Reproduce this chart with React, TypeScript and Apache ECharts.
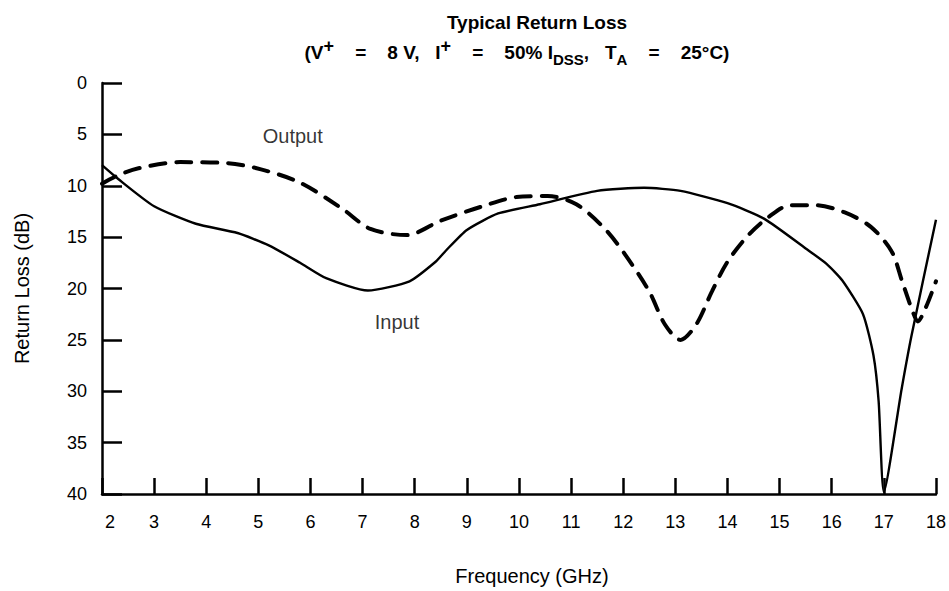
import React, { useEffect, useRef } from "react";
import * as echarts from "echarts";

// Input (solid) return loss, GHz vs dB
const inputFreq = [2, 2.3, 3.0, 3.8, 4.6, 5.2, 5.8, 6.3, 7.1, 7.9, 8.4, 8.6, 9.0, 9.6, 10.4, 11.5, 12.4, 13.1, 14.0, 14.7, 15.5, 15.9, 16.2, 16.6, 16.8, 16.9, 17.0, 17.34, 17.53, 18];
const inputLoss = [8, 9.3, 12.0, 13.7, 14.6, 15.8, 17.5, 19.0, 20.2, 19.3, 17.4, 16.3, 14.3, 12.7, 11.8, 10.5, 10.2, 10.5, 11.7, 13.2, 16.1, 17.6, 19.2, 22.5, 26.5, 31.0, 39.8, 29.8, 24.6, 13.3];

// Output (dashed) return loss
const outputFreq = [2, 2.3, 2.7, 3.5, 4.4, 5.05, 5.8, 6.6, 7.15, 7.85, 8.5, 9.3, 9.95, 10.55, 11.1, 11.65, 12.05, 12.5, 12.8, 13.1, 13.4, 13.7, 14.0, 14.4, 14.8, 15.2, 15.7, 16.25, 16.75, 17.15, 17.35, 17.55, 17.65, 17.8, 18];
const outputLoss = [9.8, 9.0, 8.3, 7.7, 7.8, 8.4, 9.7, 12.2, 14.2, 14.8, 13.4, 12.0, 11.1, 11.0, 11.8, 14.2, 16.8, 20.3, 23.5, 25.0, 23.5, 20.3, 17.4, 14.8, 13.0, 11.9, 11.9, 12.6, 14.0, 16.4, 19.3, 22.2, 23.2, 21.9, 19.3];

// Curve annotations (data coordinates)
const noteNames = ["Output", "Input"];
const noteFreq = [5.66, 7.66];
const noteLoss = [5.2, 23.3];

const FONT = '"Liberation Sans", Arial, Helvetica, sans-serif';

export default function App() {
  const ref = useRef<HTMLDivElement>(null);
  useEffect(() => {
    document.body.style.margin = "0";
    const chart = echarts.init(ref.current!, null, { renderer: "svg" });
    const pair = (xs: number[], ys: number[]) => xs.map((x, i) => [x, ys[i]]);
    chart.setOption({
      animation: false,
      backgroundColor: "#fff",
      textStyle: { fontFamily: FONT, color: "#000" },
      graphic: [
        {
          type: "text",
          x: 537,
          y: 22,
          style: {
            text: "Typical Return Loss",
            fontFamily: FONT,
            fontSize: 19,
            fontWeight: "bold",
            fill: "#000",
            align: "center",
            verticalAlign: "middle",
          },
        },
        {
          type: "text",
          x: 517,
          y: 52,
          style: {
            text: "(V{sup|+}    =    8 V,   I{sup|+}    =    50% I{sub|DSS},   T{sub|A}    =    25°C)",
            fontFamily: FONT,
            fontSize: 19,
            fontWeight: "bold",
            fill: "#000",
            align: "center",
            verticalAlign: "middle",
            lineHeight: 30,
            rich: {
              sup: { fontFamily: FONT, fontSize: 18, fontWeight: "bold", fill: "#000", verticalAlign: "top", lineHeight: 20 },
              sub: { fontFamily: FONT, fontSize: 15, fontWeight: "bold", fill: "#000", verticalAlign: "bottom", lineHeight: 13 },
            },
          },
        },
      ],
      grid: { left: 102, right: 13, top: 83, bottom: 93 },
      xAxis: {
        type: "value",
        position: "bottom",
        min: 2,
        max: 18,
        interval: 1,
        name: "Frequency (GHz)",
        nameLocation: "middle",
        nameGap: 72,
        nameTextStyle: { fontFamily: FONT, fontSize: 20, color: "#000", padding: [0, 0, 0, 26] },
        axisLine: { show: true, onZero: false, lineStyle: { color: "#000", width: 2.5 } },
        axisTick: { show: true, inside: true, length: 16, lineStyle: { color: "#000", width: 2.5 } },
        axisLabel: {
          fontFamily: FONT,
          fontSize: 18,
          color: "#000",
          margin: 19,
          formatter: (v: number) => (v === 2 ? "{a|2}" : String(v)),
          rich: { a: { fontFamily: FONT, fontSize: 18, color: "#000", padding: [0, 0, 0, 16] } },
        },
        splitLine: { show: false },
      },
      yAxis: {
        type: "value",
        inverse: true,
        min: 0,
        max: 40,
        interval: 5,
        name: "Return Loss (dB)",
        nameLocation: "middle",
        nameGap: 70,
        nameRotate: 90,
        nameTextStyle: { fontFamily: FONT, fontSize: 20, color: "#000" },
        axisLine: { show: true, onZero: false, lineStyle: { color: "#000", width: 2.5 } },
        axisTick: { show: true, inside: true, length: 20, lineStyle: { color: "#000", width: 2.5 } },
        axisLabel: { fontFamily: FONT, fontSize: 18, color: "#000", margin: 15 },
        splitLine: { show: false },
      },
      series: [
        {
          type: "line",
          name: "Input",
          data: pair(inputFreq, inputLoss),
          showSymbol: false,
          smooth: 0.2,
          lineStyle: { color: "#000", width: 2.4 },
        },
        {
          type: "line",
          name: "Output",
          data: pair(outputFreq, outputLoss),
          showSymbol: false,
          smooth: 0.3,
          lineStyle: { color: "#000", width: 4, type: [15, 11], cap: "round" },
        },
        {
          type: "scatter",
          symbolSize: 0,
          data: noteNames.map((n, i) => ({ name: n, value: [noteFreq[i], noteLoss[i]] })),
          label: {
            show: true,
            position: "inside",
            formatter: "{b}",
            fontFamily: FONT,
            fontSize: 20,
            color: "#000",
          },
        },
      ],
    });
    return () => chart.dispose();
  }, []);
  return <div ref={ref} style={{ position: "absolute", left: 0, top: 0, width: 949, height: 591 }} />;
}
